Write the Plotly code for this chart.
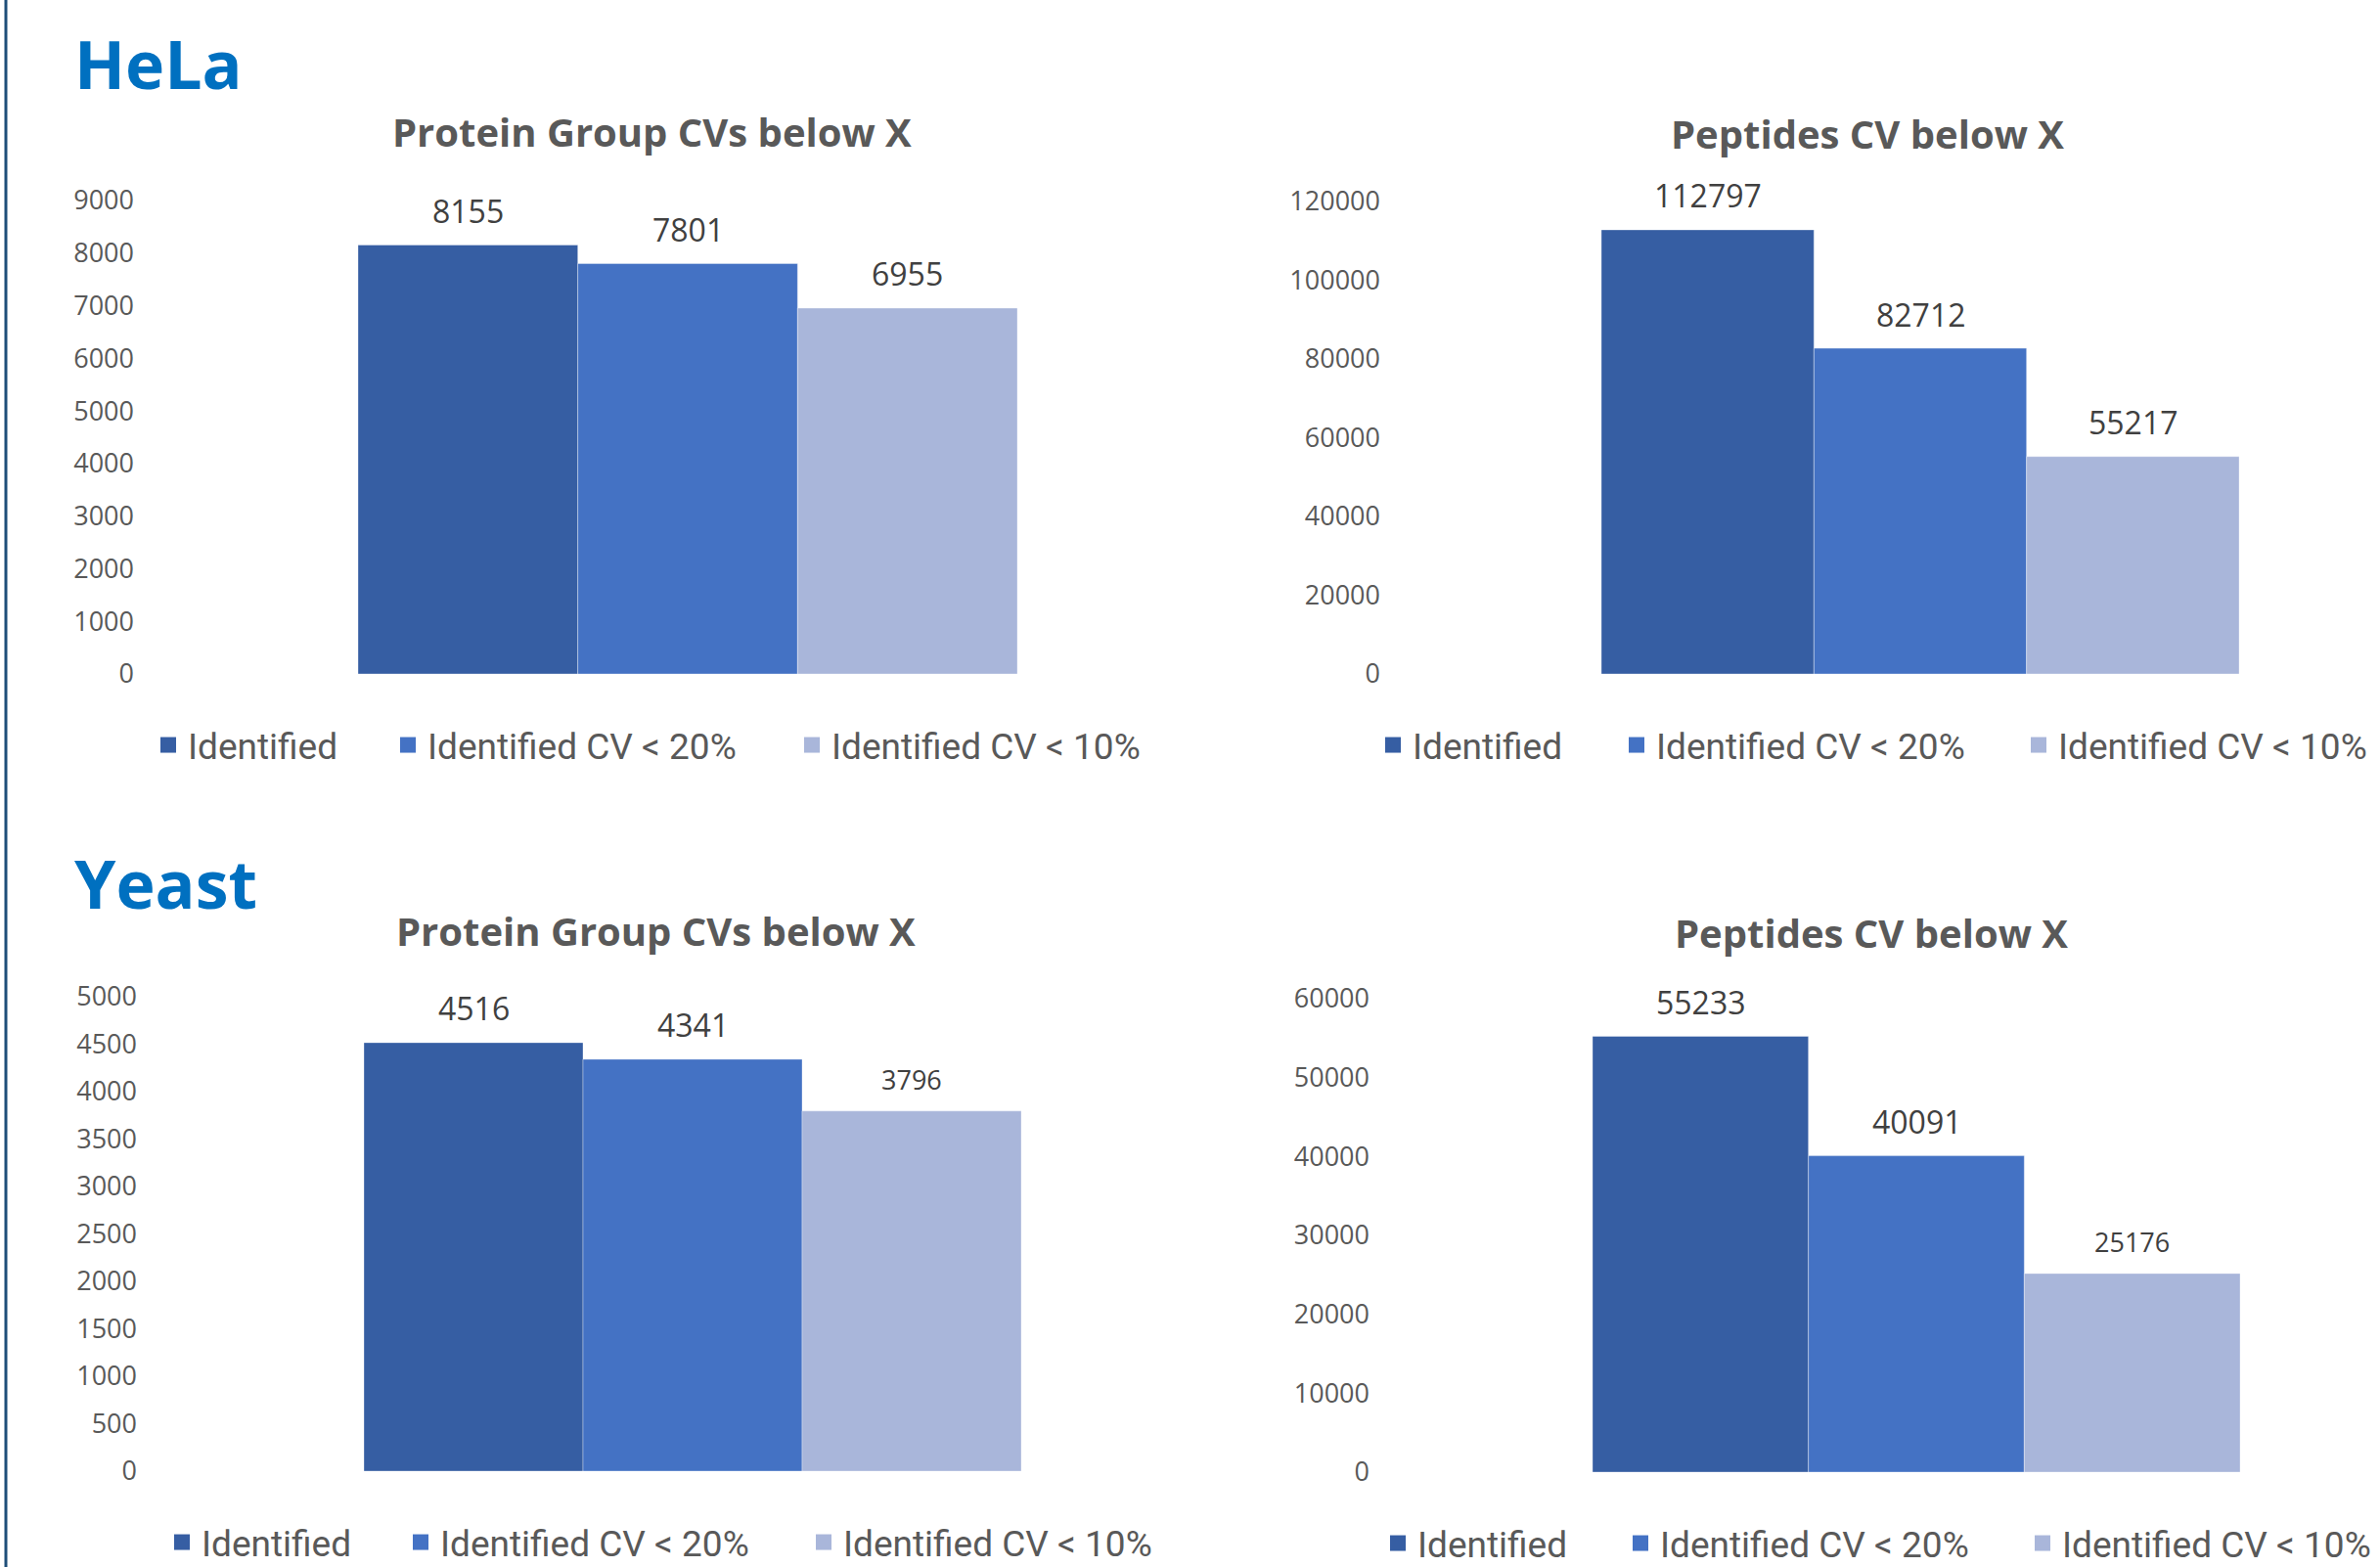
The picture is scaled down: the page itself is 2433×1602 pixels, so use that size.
import plotly.graph_objects as go

W, H = 2433, 1602

# ---- data -------------------------------------------------------------
series_names = ["Identified", "Identified CV < 20%", "Identified CV < 10%"]
series_colors = ["#365EA3", "#4472C4", "#A9B6DA"]

hela_protein_groups = [8155, 7801, 6955]
hela_peptides = [112797, 82712, 55217]
yeast_protein_groups = [4516, 4341, 3796]
yeast_peptides = [55233, 40091, 25176]

section_titles = ["HeLa", "Yeast"]
panel_titles = [
    "Protein Group CVs below X",
    "Peptides CV below X",
    "Protein Group CVs below X",
    "Peptides CV below X",
]
axis_max = [9000, 120000, 5000, 60000]
axis_step = [1000, 20000, 500, 10000]

datasets = [hela_protein_groups, hela_peptides, yeast_protein_groups, yeast_peptides]

# ---- page geometry (pixels) ------------------------------------------
TEXT = "Roboto, Open Sans, sans-serif"
DIGITS = "Open Sans, sans-serif"
HEAD = "Open Sans, sans-serif"

panels = [
    dict(plot=(150, 1262), yspan=(205, 689), bars=(366, 1040), title=(666, 135),
         legend_y=762, legend_x=(166, 411, 824), label_size=(32, 32, 32)),
    dict(plot=(1425, 2433), yspan=(206, 689), bars=(1637, 2289), title=(1909, 137),
         legend_y=762, legend_x=(1418, 1667, 2078), label_size=(32, 32, 32)),
    dict(plot=(153, 1262), yspan=(1019, 1504), bars=(372, 1044), title=(670, 951),
         legend_y=1577, legend_x=(180, 424, 836), label_size=(32, 32, 27)),
    dict(plot=(1413, 2433), yspan=(1021, 1505), bars=(1628, 2290), title=(1913, 953),
         legend_y=1578, legend_x=(1423, 1671, 2082), label_size=(32, 32, 27)),
]
section_pos = [(74, 65), (74, 902)]
tick_label_right = [135, 1409, 138, 1398]


def px_x(v):
    return v / W


def px_y(v):
    return 1 - v / H


fig = go.Figure()
layout = dict(
    width=W, height=H,
    margin=dict(l=0, r=0, t=0, b=0, autoexpand=False),
    paper_bgcolor="white", plot_bgcolor="white",
    barmode="overlay", showlegend=True,
    annotations=[], shapes=[],
)

legend_no = 0
for p, (values, g) in enumerate(zip(datasets, panels)):
    xa = "x" if p == 0 else f"x{p + 1}"
    ya = "y" if p == 0 else f"y{p + 1}"
    xkey = "xaxis" if p == 0 else f"xaxis{p + 1}"
    ykey = "yaxis" if p == 0 else f"yaxis{p + 1}"

    L, R = g["plot"]
    bl, br = g["bars"]
    scale = (br - bl) / len(values)  # px per bar slot
    r0 = -0.5 - (bl - L) / scale
    r1 = len(values) - 0.5 + (R - br) / scale

    top, bottom = g["yspan"]
    layout[xkey] = dict(domain=[px_x(L), px_x(R)], range=[r0, r1], visible=False,
                        anchor=ya, fixedrange=True)
    layout[ykey] = dict(domain=[px_y(bottom), px_y(top)], range=[0, axis_max[p]],
                        tick0=0, dtick=axis_step[p], tickformat="d",
                        showgrid=False, zeroline=False, showline=False, ticks="",
                        anchor=xa, ticklabelstandoff=L - tick_label_right[p] - 3,
                        tickfont=dict(family=DIGITS, size=27, color="#595959"),
                        fixedrange=True)

    for i, (name, color, v) in enumerate(zip(series_names, series_colors, values)):
        legend_no += 1
        lg = "legend" if legend_no == 1 else f"legend{legend_no}"
        fig.add_trace(go.Bar(
            x=[i], y=[v], width=1, name=name, xaxis=xa, yaxis=ya, showlegend=False,
            marker=dict(color=color, line=dict(width=1, color="rgba(255,255,255,0.35)")),
            hovertemplate="%{y}<extra>" + name + "</extra>",
        ))
        # legend key: square swatch in the series colour
        fig.add_trace(go.Scatter(
            x=[None], y=[None], mode="markers", name=name, xaxis=xa, yaxis=ya,
            legend=lg, marker=dict(symbol="square", size=20, color=color),
        ))
        layout["annotations"].append(dict(
            xref=xa, yref=ya, x=i, y=v, text=str(v), showarrow=False,
            yanchor="middle", yshift=35 if g["label_size"][i] > 30 else 32,
            font=dict(family=DIGITS, size=g["label_size"][i], color="#404040"),
        ))
        layout[lg] = dict(
            x=px_x(g["legend_x"][i] - 14), y=px_y(g["legend_y"]),
            xanchor="left", yanchor="middle", orientation="h",
            bgcolor="rgba(0,0,0,0)", borderwidth=0, itemsizing="trace",
            font=dict(family=TEXT, size=37, color="#595959"),
        )

    tx, ty = g["title"]
    layout["annotations"].append(dict(
        xref="paper", yref="paper", x=px_x(tx), y=px_y(ty), text=f"<b>{panel_titles[p]}</b>",
        showarrow=False, xanchor="center", yanchor="middle",
        font=dict(family=HEAD, size=40, color="#595959"),
    ))

for name, (sx, sy) in zip(section_titles, section_pos):
    layout["annotations"].append(dict(
        xref="paper", yref="paper", x=px_x(sx), y=px_y(sy), text=f"<b>{name}</b>",
        showarrow=False, xanchor="left", yanchor="middle",
        font=dict(family=HEAD, size=68, color="#0070C0"),
    ))

# thin rule down the left edge of the page
layout["shapes"].append(dict(
    type="line", xref="paper", yref="paper", x0=px_x(6), x1=px_x(6), y0=0, y1=1,
    line=dict(color="#1F4E79", width=3),
))

fig.update_layout(**layout)
fig.write_html("out.html")
